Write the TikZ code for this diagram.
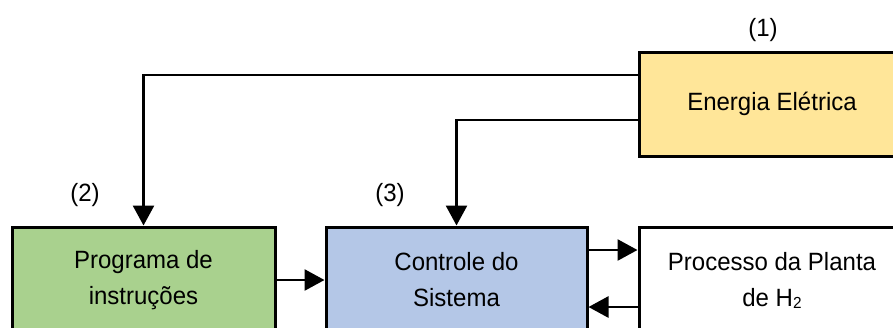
\documentclass[tikz,border=0pt]{standalone}
\usepackage{fontspec}
\setmainfont[FakeStretch=0.96]{Liberation Sans}
\usetikzlibrary{arrows.meta}
\definecolor{energyfill}{HTML}{FFE699}
\definecolor{programfill}{HTML}{A9D18E}
\definecolor{controlfill}{HTML}{B4C7E7}
\newcommand{\lowtwo}{\raisebox{-2pt}{\fontsize{16}{16}\selectfont 2}}
\begin{document}
\begin{tikzpicture}[x=1pt,y=-1pt,
  block/.style={draw=black, line width=3pt, align=center, inner sep=0pt,
    font=\fontsize{25}{36}\selectfont},
  flow/.style={line width=2.7pt, -{Triangle[length=20pt,width=21pt]}},
  tag/.style={font=\fontsize{25}{28}\selectfont, inner sep=0pt}
]
\useasboundingbox (0,0) rectangle (893,327);
\clip (0,0) rectangle (893,327);

% blocks
\node[block, fill=energyfill, minimum width=266pt, minimum height=104pt]
  (energia) at (772,104) {Energia Elétrica};
\node[block, fill=programfill, minimum width=263pt, minimum height=106pt]
  (programa) at (143.5,280) {Programa de\\instruções};
\node[block, fill=controlfill, minimum width=261pt, minimum height=106pt]
  (controle) at (456.5,280) {Controle do\\Sistema};
\node[block, fill=white, minimum width=266pt, minimum height=106pt]
  (processo) at (772,280) {Processo da Planta\\de H\lowtwo};

% numbering
\node[tag] (n1) at (763,30) {(1)};
\node[tag] (n2) at (85,195) {(2)};
\node[tag] (n3) at (390,195) {(3)};

% connectors
\draw[flow] ([yshift=29pt]energia.west) -| (programa.north);
\draw[flow] ([yshift=-16pt]energia.west) -| (controle.north);
\draw[flow] (programa.east) -- (controle.west);
\draw[flow] ([yshift=30pt]controle.east) -- ([yshift=30pt]processo.west);
\draw[flow] ([yshift=-27pt]processo.west) -- ([yshift=-27pt]controle.east);
\end{tikzpicture}
\end{document}
